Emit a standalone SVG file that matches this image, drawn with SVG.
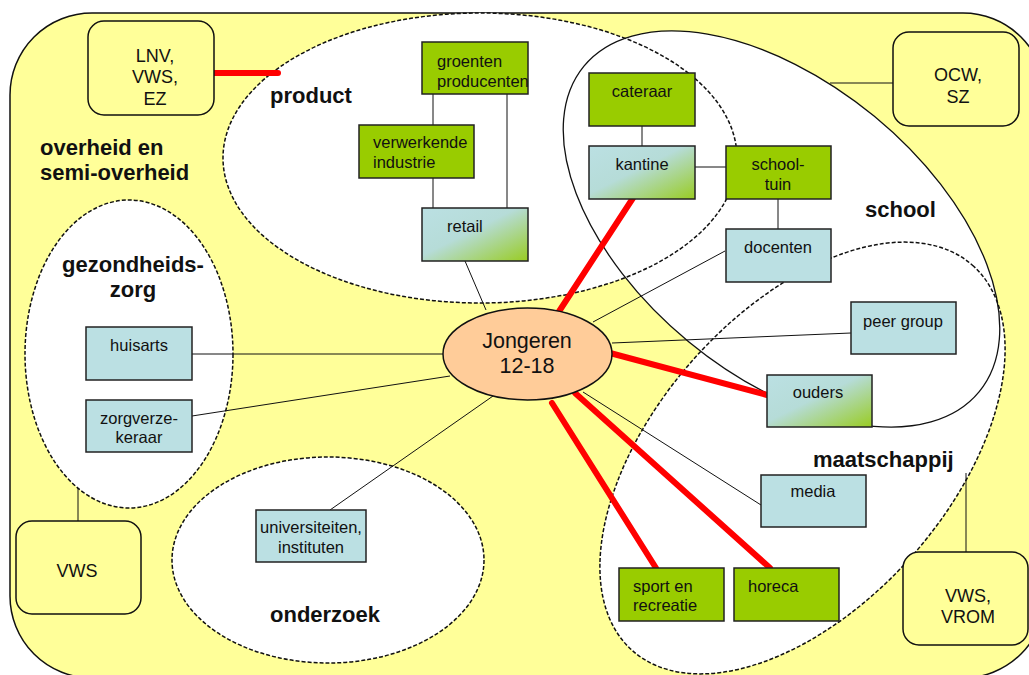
<svg xmlns="http://www.w3.org/2000/svg" width="1029" height="675" viewBox="0 0 1029 675">
<defs>
<linearGradient id="bg" x1="0" y1="0" x2="1" y2="1">
<stop offset="0" stop-color="#BBE0E3"/>
<stop offset="0.45" stop-color="#B6DCD8"/>
<stop offset="1" stop-color="#99CC22"/>
</linearGradient>
</defs>
<style>
text{font-family:"Liberation Sans",Arial,sans-serif;fill:#111}
.t{font-size:16.5px}
.tc{font-size:16.5px;text-anchor:middle}
.r{font-size:18px;text-anchor:middle}
.lbl{font-size:22px;font-weight:bold}
.reg{fill:#fff;stroke:none}
.dash{fill:none;stroke:#111;stroke-width:1.5;stroke-dasharray:4 2}
.solid{fill:none;stroke:#111;stroke-width:1.3}
.g{fill:#99CC00;stroke:#222;stroke-width:1.5}
.b{fill:#BBE0E3;stroke:#222;stroke-width:1.5}
.gr{fill:url(#bg);stroke:#222;stroke-width:1.5}
.rb{fill:#FFFF99;stroke:#111;stroke-width:1.5}
.ln{stroke:#111;stroke-width:1;fill:none}
.red{stroke:#FF0000;stroke-width:6;stroke-linecap:round;fill:none}
</style>
<rect x="10" y="13" width="1035" height="665" rx="82" ry="82" fill="#FFFF99" stroke="#111" stroke-width="1.5"/>
<g id="regions">
<ellipse class="reg" cx="129" cy="354" rx="104" ry="154"/>
<ellipse class="reg" cx="328" cy="560" rx="156" ry="103"/>
<ellipse class="reg" cx="480" cy="158" rx="257" ry="145"/>
<ellipse class="reg" cx="781.5" cy="229" rx="256" ry="146" transform="rotate(39.5 781.5 229)"/>
<ellipse class="reg" cx="802.5" cy="458" rx="257" ry="147" transform="rotate(-48.6 802.5 458)"/>
<ellipse class="dash" cx="129" cy="354" rx="104" ry="154"/>
<ellipse class="dash" cx="328" cy="560" rx="156" ry="103"/>
<ellipse class="dash" cx="480" cy="158" rx="257" ry="145"/>
<ellipse class="solid" cx="781.5" cy="229" rx="256" ry="146" transform="rotate(39.5 781.5 229)"/>
<ellipse class="dash" cx="802.5" cy="458" rx="257" ry="147" transform="rotate(-48.6 802.5 458)"/>
<text class="lbl" x="40" y="155">overheid en</text>
<text class="lbl" x="40" y="180">semi-overheid</text>
<text class="lbl" x="270" y="103">product</text>
<text class="lbl" x="133" y="272" text-anchor="middle">gezondheids-</text>
<text class="lbl" x="133" y="297" text-anchor="middle">zorg</text>
<text class="lbl" x="865" y="217">school</text>
<text class="lbl" x="813" y="467">maatschappij</text>
<text class="lbl" x="270" y="622">onderzoek</text>
</g>
<g id="connectors">
<line class="ln" x1="433" y1="94" x2="433" y2="125"/>
<line class="ln" x1="433" y1="178" x2="433" y2="208"/>
<line class="ln" x1="507" y1="94" x2="507" y2="208"/>
<line class="ln" x1="465" y1="261" x2="486" y2="310"/>
<line class="ln" x1="642" y1="126" x2="642" y2="146"/>
<line class="ln" x1="695" y1="167" x2="726" y2="167"/>
<line class="ln" x1="778" y1="199" x2="778" y2="229"/>
<line class="ln" x1="725" y1="251" x2="593" y2="322"/>
<line class="ln" x1="830" y1="83" x2="893" y2="83"/>
<line class="ln" x1="612" y1="343" x2="851" y2="333"/>
<line class="ln" x1="583" y1="392" x2="761" y2="505"/>
<line class="ln" x1="966" y1="473" x2="966" y2="552"/>
<line class="ln" x1="78" y1="488" x2="78" y2="521"/>
<line class="ln" x1="192" y1="354" x2="443" y2="354"/>
<line class="ln" x1="192" y1="416" x2="450" y2="376"/>
<line class="ln" x1="330" y1="510" x2="493" y2="396"/>
<line class="red" x1="214" y1="73" x2="278" y2="73"/>
<line class="red" x1="633" y1="198" x2="558" y2="313"/>
<line class="red" x1="610" y1="353" x2="767" y2="395"/>
<line class="red" x1="552" y1="403" x2="656" y2="568"/>
<line class="red" x1="575" y1="393" x2="770" y2="568"/>
</g>
<g id="n-lnv"><rect class="rb" x="88" y="21" width="126" height="94" rx="16"/><text class="r" x="155" y="62">LNV,</text><text class="r" x="155" y="83">VWS,</text><text class="r" x="155" y="105">EZ</text></g>
<g id="n-ocw"><rect class="rb" x="893" y="32" width="126" height="94" rx="16"/><text class="r" x="958" y="81">OCW,</text><text class="r" x="958" y="103">SZ</text></g>
<g id="n-vws"><rect class="rb" x="16" y="521" width="125" height="93" rx="16"/><text class="r" x="77" y="577">VWS</text></g>
<g id="n-vwsvrom"><rect class="rb" x="903" y="552" width="125" height="93" rx="16"/><text class="r" x="968" y="602">VWS,</text><text class="r" x="968" y="623">VROM</text></g>
<g id="n-groenten"><rect class="g" x="422" y="42" width="106" height="52"/><text class="t" x="437" y="67">groenten</text><text class="t" x="437" y="87">producenten</text></g>
<g id="n-verwerkende"><rect class="g" x="359" y="125" width="115" height="53"/><text class="t" x="373" y="148">verwerkende</text><text class="t" x="373" y="168">industrie</text></g>
<g id="n-retail"><rect class="gr" x="422" y="208" width="106" height="53"/><text class="t" x="447" y="232">retail</text></g>
<g id="n-cateraar"><rect class="g" x="589" y="73" width="106" height="53"/><text class="tc" x="642" y="97">cateraar</text></g>
<g id="n-kantine"><rect class="gr" x="589" y="146" width="106" height="53"/><text class="tc" x="642" y="170">kantine</text></g>
<g id="n-schooltuin"><rect class="g" x="726" y="146" width="105" height="53"/><text class="tc" x="778" y="170">school-</text><text class="tc" x="778" y="190">tuin</text></g>
<g id="n-docenten"><rect class="b" x="726" y="229" width="105" height="53"/><text class="tc" x="778" y="253">docenten</text></g>
<g id="n-peer"><rect class="b" x="851" y="302" width="105" height="52"/><text class="tc" x="903" y="327">peer group</text></g>
<g id="n-ouders"><rect class="gr" x="767" y="375" width="105" height="52"/><text class="tc" x="818" y="398">ouders</text></g>
<g id="n-media"><rect class="b" x="761" y="475" width="105" height="52"/><text class="tc" x="813" y="497">media</text></g>
<g id="n-sport"><rect class="g" x="619" y="568" width="105" height="53"/><text class="t" x="633" y="592">sport en</text><text class="t" x="633" y="611">recreatie</text></g>
<g id="n-horeca"><rect class="g" x="734" y="568" width="105" height="53"/><text class="t" x="748" y="592">horeca</text></g>
<g id="n-huisarts"><rect class="b" x="86" y="327" width="106" height="53"/><text class="tc" x="139" y="351">huisarts</text></g>
<g id="n-zorgverzekeraar"><rect class="b" x="86" y="400" width="106" height="52"/><text class="tc" x="139" y="424">zorgverze-</text><text class="tc" x="139" y="443">keraar</text></g>
<g id="n-universiteiten"><rect class="b" x="256" y="510" width="110" height="52"/><text class="tc" x="311" y="533">universiteiten,</text><text class="tc" x="311" y="553">instituten</text></g>
<g id="n-jongeren"><ellipse cx="527.5" cy="354" rx="84.5" ry="46" fill="#FFCC99" stroke="#111" stroke-width="1.5"/><text x="527" y="348" font-size="21.5" text-anchor="middle">Jongeren</text><text x="527" y="373" font-size="21.5" text-anchor="middle">12-18</text></g>
</svg>
